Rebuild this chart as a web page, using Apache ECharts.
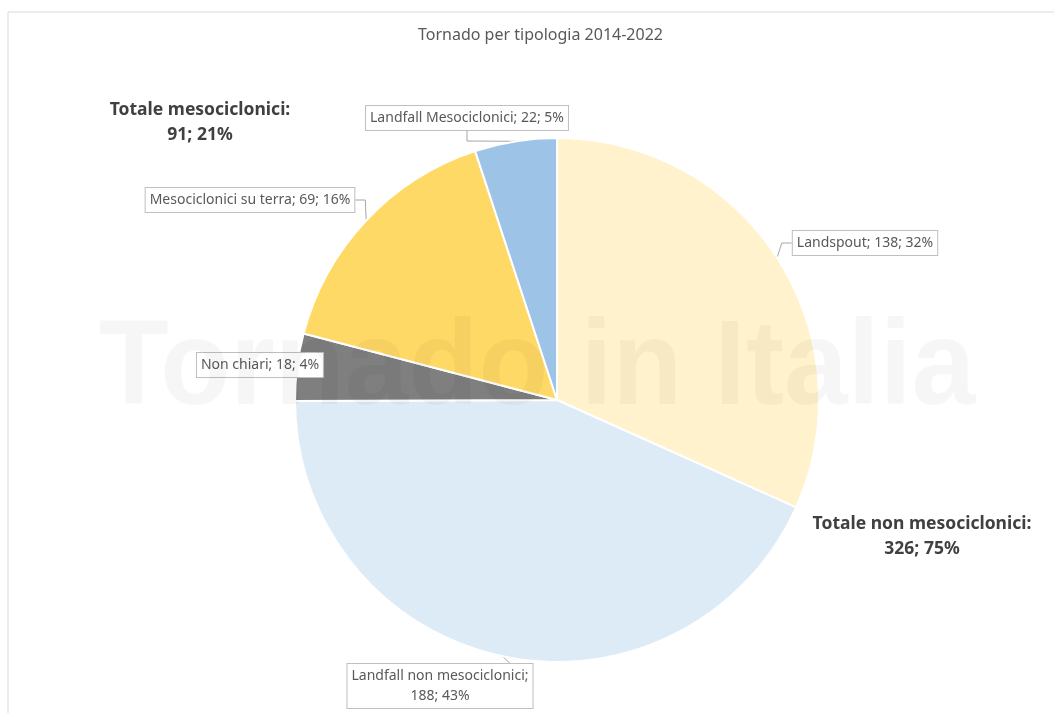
<!DOCTYPE html>
<html>
<head>
<meta charset="utf-8">
<title>Tornado per tipologia 2014-2022</title>
<script src="https://cdn.jsdelivr.net/npm/echarts@6/dist/echarts.min.js"></script>
<style>
  html, body { margin: 0; padding: 0; background: #fff; }
  #chart { width: 1054px; height: 713px; }
</style>
</head>
<body>
<div id="chart"></div>
<script>
// dati
const categories = ['Landspout', 'Landfall non mesociclonici', 'Non chiari', 'Mesociclonici su terra', 'Landfall Mesociclonici']
const values = [138, 188, 18, 69, 22]
const percents = [32, 43, 4, 16, 5]
const totalLabels = ['Totale mesociclonici:', 'Totale non mesociclonici:']
const totalValues = [91, 326]
const totalPercents = [21, 75]

const colors = ['#FFF2CC', '#DDEBF7', '#7F7F7F', '#FFD966', '#9DC3E6']
// centro delle etichette (pixel), nello stesso ordine delle categorie
const labelPos = [[865, 243], [440, 686], [260, 365], [250, 200], [467, 118]]

let myChart = echarts.init(document.getElementById('chart'))
myChart.setOption({
  animation: false,
  backgroundColor: '#fff',
  title: {
    text: 'Tornado per tipologia 2014-2022',
    left: 413,
    top: 22,
    textStyle: { color: '#595959', fontSize: 16, fontWeight: 'normal', fontFamily: 'Noto Sans' }
  },
  graphic: [
    // cornice
    {
      type: 'rect', z: 0,
      shape: { x: 8, y: 12, width: 1100, height: 800 },
      style: { fill: 'none', stroke: '#d9d9d9', lineWidth: 1 }
    },
    {
      type: 'text', z: 0,
      x: 200, y: 123,
      style: {
        text: totalLabels[0] + '\n' + totalValues[0] + '; ' + totalPercents[0] + '%',
        fontSize: 17.5, fontWeight: 'bold', fontFamily: 'Noto Sans',
        fill: '#404040', align: 'center', verticalAlign: 'middle', lineHeight: 25
      }
    },
    {
      type: 'text', z: 0,
      x: 922, y: 537,
      style: {
        text: totalLabels[1] + '\n' + totalValues[1] + '; ' + totalPercents[1] + '%',
        fontSize: 17.5, fontWeight: 'bold', fontFamily: 'Noto Sans',
        fill: '#404040', align: 'center', verticalAlign: 'middle', lineHeight: 25
      }
    },
    // filigrana
    {
      type: 'text', z: 100, silent: true,
      x: 537, y: 371, scaleX: 0.955,
      style: {
        text: 'Tornado in Italia',
        fontSize: 120, fontWeight: 'bold', fontFamily: 'Liberation Sans',
        fill: 'rgba(0,0,0,0.035)', align: 'center', verticalAlign: 'middle'
      }
    }
  ],
  series: [
    {
      type: 'pie',
      center: ['52.85%', '56.1%'],
      radius: 262,
      startAngle: 90,
      clockwise: true,
      itemStyle: { borderColor: '#fff', borderWidth: 2 },
      label: {
        show: true,
        formatter: function (p) {
          let name = p.dataIndex === 1 ? p.name + ';\n' : p.name + '; '
          return name + p.value + '; ' + percents[p.dataIndex] + '%'
        },
        color: '#595959',
        fontSize: 14,
        fontFamily: 'Noto Sans',
        lineHeight: 20,
        align: 'center',
        backgroundColor: '#fff',
        borderColor: '#bfbfbf',
        borderWidth: 1,
        padding: [2, 4]
      },
      labelLine: {
        show: true,
        length: 10,
        length2: 10,
        lineStyle: { color: '#a6a6a6', width: 1 }
      },
      labelLayout: function (params) {
        let pos = labelPos[params.dataIndex]
        return {
          x: pos[0],
          y: pos[1],
          align: 'center',
          verticalAlign: 'middle'
        }
      },
      data: categories.map(function (c, i) {
        return { name: c, value: values[i], itemStyle: { color: colors[i] } }
      })
    }
  ]
})
</script>
</body>
</html>
